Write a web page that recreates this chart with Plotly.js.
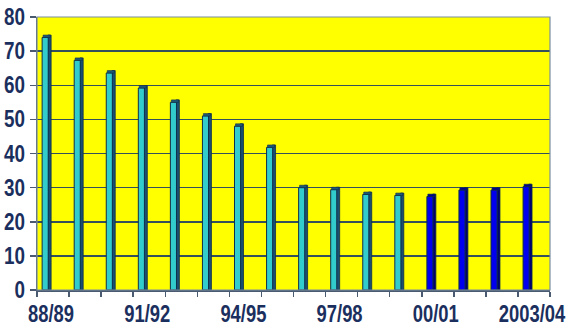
<!DOCTYPE html>
<html>
<head>
<meta charset="utf-8">
<script src="https://cdn.plot.ly/plotly-3.0.1.min.js"></script>
<style>
  html, body { margin: 0; padding: 0; background: #ffffff; }
  #chart { width: 569px; height: 329px; }
</style>
</head>
<body>
<div id="chart"></div>
<script>
// Season labels along the x axis
const seasons = ['88/89', '89/90', '90/91', '91/92', '92/93', '93/94', '94/95', '95/96',
                 '96/97', '97/98', '98/99', '99/00', '00/01', '01/02', '02/03', '2003/04'];
// Seasons that get a printed label
const labelledSeasons = ['88/89', '91/92', '94/95', '97/98', '00/01', '2003/04'];

// Earlier seasons (cyan bars)
const earlySeasons = ['88/89', '89/90', '90/91', '91/92', '92/93', '93/94', '94/95', '95/96',
                      '96/97', '97/98', '98/99', '99/00'];
const earlyValues = [74, 67.3, 63.6, 59.2, 55, 51, 48, 41.8, 30, 29.4, 28, 27.7];

// Later seasons (blue bars)
const lateSeasons = ['00/01', '01/02', '02/03', '2003/04'];
const lateValues = [27.4, 29.3, 29.3, 30.3];

const yTicks = [0, 10, 20, 30, 40, 50, 60, 70, 80];

const idx = s => seasons.indexOf(s);
const navy = '#1b2f5e';
const outline = '#0f2f4a';
const capDepth = 0.7;   // height of the bevelled top, in axis units

// Each bar: light front face, darker side face and a dark bevelled top
function barSet(names, values, front, side, cap) {
  const x = names.map(idx);
  return [
    {
      type: 'bar', x: x, y: values.map(v => v + capDepth),
      offset: -0.16, width: 0.1,
      marker: { color: side, line: { color: outline, width: 0.8 } },
      hoverinfo: 'skip', showlegend: false
    },
    {
      type: 'bar', x: x, y: values,
      offset: -0.34, width: 0.19,
      marker: { color: front, line: { color: outline, width: 1 } },
      customdata: names, hovertemplate: '%{customdata}: %{y}<extra></extra>', showlegend: false
    },
    {
      type: 'bar', x: x, base: values, y: values.map(() => capDepth),
      offset: -0.31, width: 0.22,
      marker: { color: cap, line: { color: outline, width: 0.6 } },
      hoverinfo: 'skip', showlegend: false
    }
  ];
}

const data = [
  ...barSet(earlySeasons, earlyValues, '#33cccc', '#1b4f72', '#1f5a78'),
  ...barSet(lateSeasons, lateValues, '#0000ee', '#00006e', '#00008a')
];

const tickFont = { family: '"Liberation Sans", Arial, sans-serif',
                   size: 23, color: navy, weight: 'bold' };

const layout = {
  width: 569, height: 329,
  margin: { l: 37, r: 19, t: 17, b: 39 },
  paper_bgcolor: '#ffffff',
  plot_bgcolor: '#ffff00',
  barmode: 'overlay',
  showlegend: false,
  xaxis: {
    type: 'linear',
    range: [-0.5, seasons.length - 0.5],
    tickmode: 'array',
    tickvals: labelledSeasons.map(idx),
    ticktext: labelledSeasons,
    ticks: 'outside', ticklen: 3, tickcolor: 'rgba(0,0,0,0)',
    minor: { tickmode: 'linear', tick0: -0.5, dtick: 1, ticks: 'outside',
             ticklen: 5, tickwidth: 1.5, tickcolor: '#4a5a70', showgrid: false },
    tickfont: tickFont,
    ticklabelshift: -2,
    ticklabeloverflow: 'allow',
    showgrid: false, zeroline: false,
    showline: true, linecolor: '#4a5a70', linewidth: 1.5,
    fixedrange: true
  },
  yaxis: {
    range: [0, 80],
    tickmode: 'array', tickvals: yTicks,
    ticks: 'outside', ticklen: 6, tickwidth: 1.5, tickcolor: '#4a5a70',
    tickfont: tickFont,
    showgrid: true, gridcolor: '#34505c', gridwidth: 1.5,
    zeroline: false,
    showline: true, linecolor: '#4a5a70', linewidth: 1.5,
    fixedrange: true
  },
  shapes: [
    { type: 'rect', xref: 'paper', yref: 'paper', x0: 0, x1: 1, y0: 0, y1: 1,
      line: { color: '#7a8ea0', width: 1.2 }, fillcolor: 'rgba(0,0,0,0)', layer: 'above' }
  ]
};

// Tick labels are set in a condensed style: scale each label horizontally
// about its own anchor point
function condenseTickLabels(gd, selector, factor) {
  gd.querySelectorAll(selector).forEach(t => {
    const ax = parseFloat(t.getAttribute('x')) || 0;
    const prev = t.getAttribute('transform') || '';
    t.setAttribute('transform',
      `${prev} translate(${ax},0) scale(${factor},1) translate(${-ax},0)`);
  });
}

Plotly.newPlot('chart', data, layout, { displayModeBar: false, staticPlot: true })
  .then(gd => {
    condenseTickLabels(gd, '.xtick text', 0.8);
    condenseTickLabels(gd, '.ytick text', 0.82);
  });
</script>
</body>
</html>
